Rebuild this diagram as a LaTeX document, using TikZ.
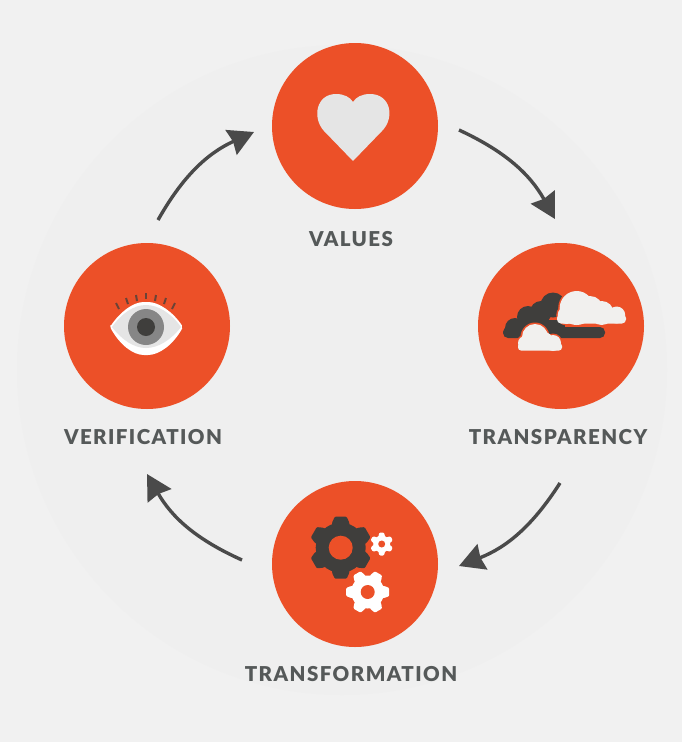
\documentclass[tikz,border=0pt]{standalone}
\usepackage{fontspec}
\setmainfont{Lato Black}[LetterSpace=7]
\usepackage{tikz}
\usetikzlibrary{positioning,arrows.meta}

\definecolor{bgout}{HTML}{F1F1F1}
\definecolor{bgin}{HTML}{EFEFEF}
\definecolor{redorange}{HTML}{EC5028}
\definecolor{darkicon}{HTML}{3F3E3C}
\definecolor{lighticon}{HTML}{E5E5E5}
\definecolor{cloudwhite}{HTML}{F1F0EE}
\definecolor{arrowgrey}{HTML}{4A4A4A}
\definecolor{labelgrey}{HTML}{555959}

% gear: centre x, centre y, outer radius, root radius, hole radius, colour, turn
\newcommand{\gearicon}[7]{
	\begin{scope}[shift={(#1,#2)},rotate=#7]
		\foreach \a in {0,60,...,300}
			\fill[#6,rotate=\a,rounded corners=1pt] (-#3*0.28,0) -- (-#3*0.28,-#4) -- (-#3*0.19,-#3) -- (#3*0.19,-#3) -- (#3*0.28,-#4) -- (#3*0.28,0) -- cycle;
		\fill[#6] (0,0) circle (#4);
		\fill[redorange] (0,0) circle (#5);
	\end{scope}
}

\begin{document}
\begin{tikzpicture}[x=1pt,y=-1pt,
	badge/.style={circle,fill=redorange,minimum size=166pt,inner sep=0pt},
	caption/.style={text=labelgrey,font=\fontsize{20.5}{20.5}\selectfont,inner sep=0pt},
	flow/.style={draw=arrowgrey,line width=3.4pt,-{Stealth[length=25pt,width=27pt,inset=2pt]}}]

	\useasboundingbox (0,0) rectangle (682,742);
	\fill[bgout] (0,0) rectangle (682,742);
	\fill[bgin] (342,370) circle (325);

	%circles
	\node[badge] (values) at (355,126) {};
	\node[badge] (verification) at (147,326) {};
	\node[badge] (transparency) at (561,326) {};
	\node[badge] (transformation) at (355,564) {};

	%labels
	\node[caption] (lvalues) at (351,239) {VALUES};
	\node[caption] (lverification) at (143,437) {VERIFICATION};
	\node[caption] (ltransparency) at (558,437) {TRANSPARENCY};
	\node[caption] (ltransformation) at (351,674) {TRANSFORMATION};

	%arrow ends
	\coordinate (a1) at (459,130);
	\coordinate (a2) at (555,219);
	\coordinate (b1) at (560,483);
	\coordinate (b2) at (459,566);
	\coordinate (c1) at (242,560);
	\coordinate (c2) at (147,474);
	\coordinate (d1) at (158,220);
	\coordinate (d2) at (254,132);

	%arrows
	\draw[flow] (a1) to[bend left=18] (a2);
	\draw[flow] (b1) to[bend left=18] (b2);
	\draw[flow] (c1) to[bend left=18] (c2);
	\draw[flow] (d1) to[bend left=18] (d2);

	%heart
	\fill[lighticon] (353,161) -- (324,131) .. controls (312,118) and (316,94) .. (336,94)
		.. controls (344,94) and (350,97) .. (353,102) .. controls (356,97) and (362,94) .. (370,94)
		.. controls (391,94) and (395,118) .. (382,131) -- cycle;

	%eye
	\fill[white,rounded corners=2pt] (110,327) .. controls (120,312) and (133,302) .. (146,302) .. controls (159,302) and (173,312) .. (183,327)
		.. controls (173,345) and (159,355) .. (146,355) .. controls (133,355) and (120,345) .. (110,327) -- cycle;
	\fill[lighticon] (112,327) .. controls (122,313) and (134,305) .. (146,305) .. controls (158,305) and (171,313) .. (181,327)
		.. controls (171,340) and (158,348) .. (146,348) .. controls (134,348) and (122,340) .. (112,327) -- cycle;
	\fill[gray!95] (146,327) circle (18);
	\fill[darkicon] (146,327) circle (9);
	\foreach \xa/\ya/\xb/\yb in {116/303/119/309,126/298/128/304,136/295/137/301,146/293/146/299,156/295/155/301,166/298/164/304,175/303/172/309}
		\draw[darkicon!75!redorange,line width=2pt] (\xa,\ya) -- (\xb,\yb);

	%clouds
	\foreach \cx/\cy/\cr in {515/328/10,528/317/11,541/312/11,553/305/12.5}
		\fill[darkicon] (\cx,\cy) circle (\cr);
	\fill[darkicon,rounded corners=5pt] (503,327) rectangle (605,338);
	\fill[darkicon] (515,320) rectangle (565,332);
	\foreach \cx/\cy/\cr in {576.7/308/18.5,566.7/315/10.5}
		\fill[redorange] (\cx,\cy) circle (\cr);
	\foreach \cx/\cy/\cr in {576.7/308/17,590/309/13,601.7/313/12,616.7/315/8.5,566.7/315/9}
		\fill[cloudwhite] (\cx,\cy) circle (\cr);
	\fill[cloudwhite,rounded corners=4pt] (557,314) rectangle (626,323.5);
	\foreach \cx/\cy/\cr in {535/337/14.5,525/343/8.5,553/343/9.5}
		\fill[redorange] (\cx,\cy) circle (\cr);
	\foreach \cx/\cy/\cr in {535/337/13,525/343/7,553/343/8,544/341/9}
		\fill[cloudwhite] (\cx,\cy) circle (\cr);
	\fill[cloudwhite,rounded corners=3pt] (518,343) rectangle (562,350.5);

	%gears
	\gearicon{340.7}{547.7}{31}{25}{12}{darkicon}{0}
	\gearicon{381.7}{544}{11.5}{8.5}{3.5}{white}{0}
	\gearicon{367.7}{592}{21.5}{16.5}{7}{white}{90}

\end{tikzpicture}
\end{document}
